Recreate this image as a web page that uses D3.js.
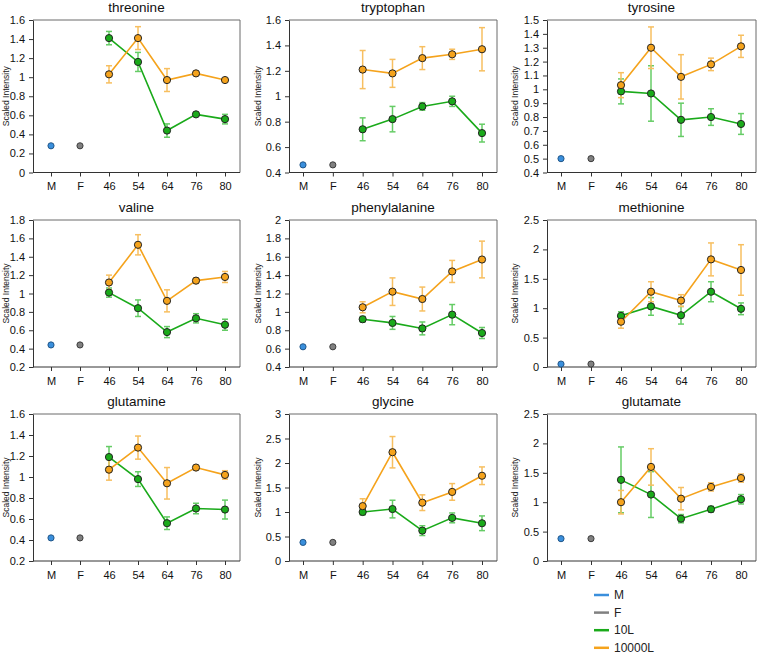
<!DOCTYPE html>
<html><head><meta charset="utf-8">
<script src="https://cdn.jsdelivr.net/npm/d3@7"></script>
<style>body{margin:0;background:#fff}svg{display:block;font-family:"Liberation Sans",Arial,sans-serif}</style>
</head><body><svg id="c" width="757" height="655"></svg>
<script>
const categories = ["M","F","46","54","64","76","80"];
const groupCats = ["46","54","64","76","80"];
const titles = ["threonine","tryptophan","tyrosine","valine","phenylalanine","methionine","glutamine","glycine","glutamate"];
const yDomains = [[0,1.6],[0.4,1.6],[0.4,1.5],[0.2,1.8],[0.4,2],[0,2.5],[0.2,1.6],[0,3],[0,2.5]];
const yTickSteps = [0.2,0.2,0.1,0.2,0.2,0.5,0.2,0.5,0.5];
const mValues = [0.28,0.46,0.50,0.44,0.62,0.05,0.42,0.38,0.38];
const fValues = [0.28,0.46,0.50,0.44,0.62,0.05,0.42,0.38,0.38];
const l10Values = [
  [1.41,1.16,0.44,0.61,0.56],
  [0.74,0.82,0.92,0.96,0.71],
  [0.985,0.97,0.78,0.80,0.75],
  [1.01,0.84,0.58,0.73,0.66],
  [0.92,0.88,0.82,0.97,0.77],
  [0.87,1.03,0.88,1.28,0.99],
  [1.19,0.98,0.56,0.70,0.69],
  [1.00,1.06,0.62,0.88,0.77],
  [1.38,1.13,0.72,0.88,1.05]];
const l10Err = [
  [0.07,0.10,0.07,0.02,0.05],
  [0.09,0.10,0.03,0.04,0.07],
  [0.09,0.20,0.12,0.06,0.075],
  [0.05,0.09,0.06,0.05,0.06],
  [0.03,0.07,0.07,0.11,0.06],
  [0.07,0.15,0.15,0.17,0.10],
  [0.10,0.07,0.06,0.05,0.09],
  [0.06,0.18,0.10,0.10,0.15],
  [0.56,0.39,0.07,0.05,0.08]];
const l10000Values = [
  [1.03,1.41,0.97,1.04,0.97],
  [1.21,1.18,1.30,1.33,1.37],
  [1.03,1.30,1.09,1.18,1.31],
  [1.12,1.53,0.92,1.14,1.18],
  [1.05,1.22,1.14,1.44,1.57],
  [0.77,1.28,1.13,1.83,1.65],
  [1.07,1.28,0.94,1.09,1.02],
  [1.12,2.22,1.19,1.41,1.74],
  [1.00,1.60,1.06,1.26,1.41]];
const l10000Err = [
  [0.09,0.12,0.12,0.02,0.01],
  [0.15,0.11,0.09,0.04,0.17],
  [0.09,0.15,0.16,0.045,0.08],
  [0.08,0.11,0.12,0.03,0.06],
  [0.06,0.15,0.13,0.12,0.20],
  [0.11,0.17,0.10,0.28,0.43],
  [0.10,0.11,0.15,0.02,0.04],
  [0.15,0.32,0.16,0.17,0.18],
  [0.20,0.31,0.19,0.07,0.07]];
const legendLabels = ["M","F","10L","10000L"];
const colors = {M:"#3a8fdc",F:"#808080",L10:"#1aaa1a",L10000:"#f5a31c"};
const errColors = {L10:"#66cc66",L10000:"#f7bf60"};

const svg = d3.select("#c");
const colLeft = [33,289,547], colRight=[240,497,756];
const firstPt = [51,303,561], lastPt=[225,482,741];
const rowTop = [20,220,414], rowBottom=[172.5,367,561];
const yLabelX = [6,258,515];

titles.forEach((t,i)=>{
  const c=i%3, r=Math.floor(i/3);
  const g=svg.append("g");
  const x=d3.scalePoint().domain(categories).range([firstPt[c],lastPt[c]]);
  const y=d3.scaleLinear().domain(yDomains[i]).range([rowBottom[r],rowTop[r]]);
  const ticks=d3.range(yDomains[i][0],yDomains[i][1]+1e-9,yTickSteps[i]).map(v=>+v.toFixed(2));
  g.append("path").attr("d",`M${colLeft[c]},${rowTop[r]}H${colRight[c]}V${rowBottom[r]}`)
    .attr("fill","none").attr("stroke","#6a6a6a").attr("stroke-width",1);
  const ya=g.append("g").attr("transform",`translate(${colLeft[c]},0)`)
    .call(d3.axisLeft(y).tickValues(ticks).tickSize(4).tickSizeOuter(0).tickPadding(4).tickFormat(d3.format("~g")));
  const xa=g.append("g").attr("transform",`translate(0,${rowBottom[r]})`)
    .call(d3.axisBottom(x).tickSize(4).tickSizeOuter(0).tickPadding(6));
  xa.select(".domain").attr("d",`M${colLeft[c]},0H${colRight[c]}`);
  [ya,xa].forEach(a=>{a.selectAll("text").attr("font-size",11).attr("fill","#111").attr("font-family","Liberation Sans, Arial, sans-serif");
    a.selectAll("line,path").attr("stroke","#333");});
  g.append("text").attr("x",(colLeft[c]+colRight[c])/2).attr("y",rowTop[r]-8)
    .attr("text-anchor","middle").attr("font-size",13.5).attr("font-weight","normal").attr("fill","#111").text(t);
  g.append("text").attr("transform",`translate(${yLabelX[c]},${(rowTop[r]+rowBottom[r])/2}) rotate(-90)`)
    .attr("text-anchor","middle").attr("dominant-baseline","central").attr("font-size",8.5).attr("fill","#222").text("Scaled Intensity");

  const series=[{k:"L10",v:l10Values[i],e:l10Err[i]},{k:"L10000",v:l10000Values[i],e:l10000Err[i]}];
  series.forEach(s=>{
    const d=groupCats.map((cat,j)=>({cat,v:s.v[j],e:s.e[j]}));
    const eg=g.append("g").attr("stroke",errColors[s.k]).attr("stroke-width",1.5);
    d.forEach(p=>{
      const cx=x(p.cat),y1=y(p.v+p.e),y0=y(p.v-p.e);
      eg.append("line").attr("x1",cx).attr("x2",cx).attr("y1",y1).attr("y2",y0);
      eg.append("line").attr("x1",cx-3).attr("x2",cx+3).attr("y1",y1).attr("y2",y1);
      eg.append("line").attr("x1",cx-3).attr("x2",cx+3).attr("y1",y0).attr("y2",y0);
    });
  });
  series.forEach(s=>{
    const d=groupCats.map((cat,j)=>({cat,v:s.v[j]}));
    g.append("path").datum(d).attr("fill","none").attr("stroke",colors[s.k]).attr("stroke-width",1.6)
      .attr("d",d3.line().x(p=>x(p.cat)).y(p=>y(p.v)));
  });
  series.forEach(s=>{
    groupCats.forEach((cat,j)=>{
      g.append("circle").attr("cx",x(cat)).attr("cy",y(s.v[j])).attr("r",3.6)
        .attr("fill",colors[s.k]).attr("stroke","#222").attr("stroke-width",1);
    });
  });
  g.append("circle").attr("cx",x("M")).attr("cy",y(mValues[i])).attr("r",3.1).attr("fill",colors.M).attr("stroke","#1d4f7f").attr("stroke-width",0.9);
  g.append("circle").attr("cx",x("F")).attr("cy",y(fValues[i])).attr("r",3.1).attr("fill",colors.F).attr("stroke","#333").attr("stroke-width",0.9);
});

const legColors=[colors.M,colors.F,colors.L10,colors.L10000];
const lg=svg.append("g");
legendLabels.forEach((l,i)=>{
  const yy=595+i*17.6;
  lg.append("line").attr("x1",594).attr("x2",609).attr("y1",yy).attr("y2",yy).attr("stroke",legColors[i]).attr("stroke-width",2.5);
  lg.append("text").attr("x",614).attr("y",yy+4).attr("font-size",12).attr("fill","#222").text(l);
});
</script></body></html>
